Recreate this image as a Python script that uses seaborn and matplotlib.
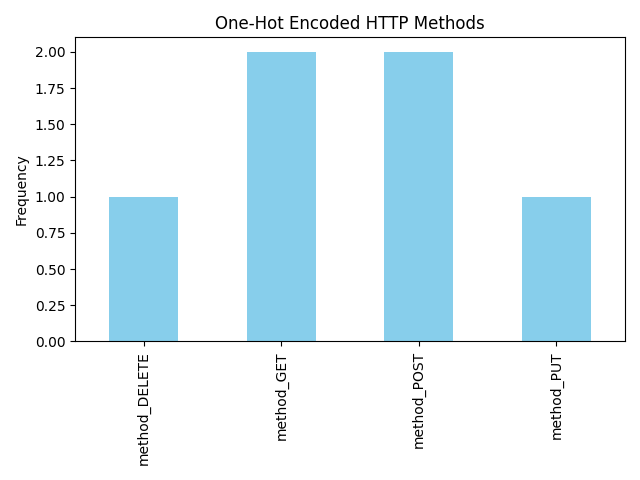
import matplotlib
matplotlib.use("Agg")
import matplotlib.pyplot as plt
import seaborn as sns
import pandas as pd

categories = ["method_DELETE", "method_GET", "method_POST", "method_PUT"]
frequencies = [1, 2, 2, 1]

df = pd.DataFrame({"method": categories, "freq": frequencies})

fig, ax = plt.subplots(figsize=(6.4, 4.8), dpi=100)
sns.barplot(data=df, x="method", y="freq", color="skyblue", saturation=1, width=0.5, ax=ax)
ax.set_title("One-Hot Encoded HTTP Methods")
ax.set_xlabel("")
ax.set_ylabel("Frequency")
ax.set_ylim(0, 2.1)
ax.set_xlim(-0.5, 3.5)
plt.setp(ax.get_xticklabels(), rotation=90)
fig.tight_layout()
fig.savefig("out.png")
